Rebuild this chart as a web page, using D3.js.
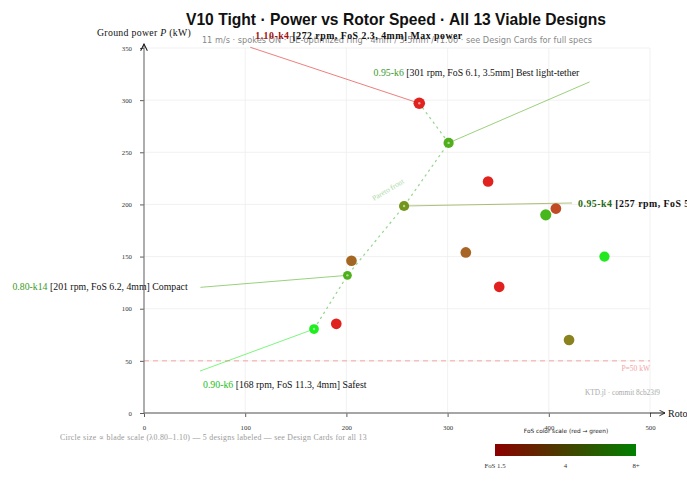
<!DOCTYPE html>
<html>
<head>
<meta charset="utf-8">
<script src="https://cdn.jsdelivr.net/npm/d3@7"></script>
<style>
  body { margin: 0; background: #fff; }
  svg { display: block; }
  .serif { font-family: "Liberation Serif", "DejaVu Serif", serif; }
  .sans { font-family: "DejaVu Sans", "Liberation Sans", sans-serif; }
</style>
</head>
<body>
<svg id="chart" width="687" height="500"></svg>
<script>
// design data
const rpm = [272, 301, 257, 205, 201, 168, 190, 340, 318, 351, 397, 407, 455, 420];
const power = [297, 259, 198.5, 146, 132, 80.5, 85.5, 222, 154, 121, 190, 196, 150, 70];
const fos = [2.3, 6.1, 5.2, 3.6, 6.2, 11.3, 2.0, 2.1, 3.5, 1.9, 6.5, 3.0, 10.5, 4.5];
const bladeScale = [1.10, 0.95, 0.95, 1.00, 0.80, 0.90, 1.00, 1.00, 1.00, 1.00, 1.05, 1.00, 0.95, 1.00];

const labeledIdx = [0, 1, 2, 4, 5];
const labelNames = ["1.10-k4", "0.95-k6", "0.95-k4", "0.80-k14", "0.90-k6"];
const labelTether = ["4mm", "3.5mm", "4mm", "4mm", "4mm"];
const labelRoles = ["Max power", "Best light-tether", "Balanced", "Compact", "Safest"];
const paretoIdx = [0, 1, 2, 4, 5];

const xTicks = [0, 100, 200, 300, 400, 500];
const yTicks = [0, 50, 100, 150, 200, 250, 300, 350];
const fosBarTicks = [1.5, 4, 6.5];
const fosBarLabels = ["FoS 1.5", "4", "8+"];
const minPower = 50;

// label layout: offsets from the point (text anchor, leader end), style
const labelLayout = [
  { tx: -164, ty: -64, lx: -169, ly: -56, bold: true, color: "#a01010" },
  { tx: -75, ty: -67, lx: 141, ly: -61, bold: false, color: "#3a9a28" },
  { tx: 174, ty: 1, lx: 168, ly: -3, bold: true, color: "#24680f" },
  { tx: -335, ty: 15, lx: -147, ly: 12, bold: false, color: "#3a9a28" },
  { tx: -111, ty: 59, lx: -114, ly: 42, bold: false, color: "#20c020" }
];

const svg = d3.select("#chart");
const m = { left: 144, right: 650, top: 48, bottom: 413 };

const x = d3.scaleLinear().domain([0, 500]).range([m.left, m.right]);
const y = d3.scaleLinear().domain([0, 350]).range([m.bottom, m.top]);
const r = d3.scaleLinear().domain([0.8, 1.1]).range([4.4, 5.8]);
const color = d3.scaleLinear()
  .domain([1.5, 2.5, 3.3, 4.8, 6.3, 11])
  .range(["#e01212", "#dc1a14", "#a85618", "#7a8410", "#40b010", "#12ee12"])
  .clamp(true);

// grid
svg.append("g").selectAll("line").data(xTicks.slice(1)).join("line")
  .attr("x1", d => x(d)).attr("x2", d => x(d))
  .attr("y1", y(0)).attr("y2", y(350))
  .attr("stroke", "#eeeeee").attr("stroke-width", 0.8);
svg.append("g").selectAll("line").data(yTicks.slice(1)).join("line")
  .attr("x1", x(0)).attr("x2", x(500))
  .attr("y1", d => y(d)).attr("y2", d => y(d))
  .attr("stroke", "#eeeeee").attr("stroke-width", 0.8);

// title
svg.append("text")
  .attr("x", 396).attr("y", 25).attr("text-anchor", "middle")
  .attr("font-family", "'Liberation Sans', sans-serif")
  .attr("font-size", 17).attr("font-weight", "bold").attr("fill", "#111")
  .attr("textLength", 420).attr("lengthAdjust", "spacingAndGlyphs")
  .text("V10 Tight · Power vs Rotor Speed · All 13 Viable Designs");
svg.append("text").attr("class", "sans")
  .attr("x", 397).attr("y", 43).attr("text-anchor", "middle")
  .attr("font-size", 8.2).attr("fill", "#888")
  .text("11 m/s · spokes ON · DE-optimized ring · 4mm / 3.5mm / r1.00 · see Design Cards for full specs");

// min power line
svg.append("line")
  .attr("x1", x(0)).attr("x2", x(500))
  .attr("y1", y(minPower)).attr("y2", y(minPower))
  .attr("stroke", "#f4a4a4").attr("stroke-width", 1).attr("stroke-dasharray", "5,4");
svg.append("text").attr("class", "serif")
  .attr("x", x(500)).attr("y", y(minPower) + 10).attr("text-anchor", "end")
  .attr("font-size", 7.5).attr("fill", "#f4a4a4")
  .text(`P=${minPower} kW`);

svg.append("text").attr("class", "serif")
  .attr("x", 660).attr("y", 395).attr("text-anchor", "end")
  .attr("font-size", 7.3).attr("fill", "#aaa")
  .text("KTD.jl · commit 8cb23f9");

// axes
const xAxis = d3.axisBottom(x).tickValues(xTicks).tickSize(4).tickPadding(8);
const gx = svg.append("g").attr("transform", `translate(0,${y(0)})`).call(xAxis);
const yAxis = d3.axisLeft(y).tickValues(yTicks).tickSize(4).tickPadding(8);
const gy = svg.append("g").attr("transform", `translate(${x(0)},0)`).call(yAxis);
[gx, gy].forEach(g => {
  g.select(".domain").remove();
  g.selectAll(".tick line").attr("stroke", "#333").attr("stroke-width", 0.8);
  g.selectAll(".tick text").attr("class", "serif").attr("font-size", 6.8).attr("fill", "#333");
});

svg.append("defs").append("marker")
  .attr("id", "arrow").attr("viewBox", "0 0 10 10")
  .attr("refX", 9).attr("refY", 5)
  .attr("markerWidth", 7).attr("markerHeight", 7)
  .attr("orient", "auto-start-reverse")
  .append("path").attr("d", "M1,1 L9,5 L1,9").attr("fill", "none")
  .attr("stroke", "#111").attr("stroke-width", 1.2);

svg.append("line")
  .attr("x1", x(0)).attr("x2", x(500))
  .attr("y1", y(0)).attr("y2", y(0))
  .attr("stroke", "#888").attr("stroke-width", 1.5);
svg.append("line")
  .attr("x1", x(500)).attr("x2", x(500) + 15)
  .attr("y1", y(0)).attr("y2", y(0))
  .attr("stroke", "#111").attr("stroke-width", 1)
  .attr("marker-end", "url(#arrow)");
svg.append("line")
  .attr("x1", x(0)).attr("x2", x(0))
  .attr("y1", y(0)).attr("y2", y(350) - 4)
  .attr("stroke", "#777").attr("stroke-width", 1.2)
  .attr("marker-end", "url(#arrow)");

svg.append("text").attr("class", "serif")
  .attr("x", 668).attr("y", y(0) + 3.5)
  .attr("font-size", 10).attr("fill", "#111")
  .text("Rotor speed Ω (rpm)");
const ylab = svg.append("text").attr("class", "serif")
  .attr("x", 97).attr("y", 36)
  .attr("font-size", 9.8).attr("letter-spacing", 0.3).attr("fill", "#111");
ylab.append("tspan").text("Ground power ");
ylab.append("tspan").attr("font-style", "italic").text("P");
ylab.append("tspan").text(" (kW)");

// pareto front
const pareto = d3.line().x(i => x(rpm[i])).y(i => y(power[i]));
svg.append("path")
  .attr("d", pareto(paretoIdx))
  .attr("fill", "none").attr("stroke", "#96d890")
  .attr("stroke-width", 1.3).attr("stroke-dasharray", "1.3,4.6")
  .attr("stroke-linecap", "round");
svg.append("text").attr("class", "serif")
  .attr("transform", `translate(374,201) rotate(-31)`)
  .attr("font-size", 7.5).attr("fill", "#a6d8a0")
  .text("Pareto front");

// leader lines
labeledIdx.forEach((i, k) => {
  const L = labelLayout[k];
  const px = x(rpm[i]), py = y(power[i]);
  svg.append("line")
    .attr("x1", px).attr("y1", py)
    .attr("x2", px + L.lx).attr("y2", py + L.ly)
    .attr("stroke", color(fos[i])).attr("stroke-opacity", 0.55)
    .attr("stroke-width", 1);
});

// points
const idx = d3.range(rpm.length);
svg.append("g").selectAll("circle").data(idx).join("circle")
  .attr("cx", i => x(rpm[i])).attr("cy", i => y(power[i]))
  .attr("r", i => r(bladeScale[i]))
  .attr("fill", i => color(fos[i]))
  .attr("fill-opacity", 0.95);
svg.append("g").selectAll("circle").data(labeledIdx).join("circle")
  .attr("cx", i => x(rpm[i])).attr("cy", i => y(power[i]))
  .attr("r", 1.2).attr("fill", "#fff").attr("fill-opacity", 0.55);

// labels
labeledIdx.forEach((i, k) => {
  const L = labelLayout[k];
  const px = x(rpm[i]), py = y(power[i]);
  const t = svg.append("text").attr("class", "serif")
    .attr("x", px + L.tx).attr("y", py + L.ty)
    .attr("font-size", 9.8)
    .attr("letter-spacing", L.bold ? 0.5 : 0)
    .attr("font-weight", L.bold ? "bold" : "normal");
  t.append("tspan").attr("fill", L.color).text(labelNames[k]);
  t.append("tspan").attr("fill", "#111")
    .text(` [${rpm[i]} rpm, FoS ${fos[i].toFixed(1)}, ${labelTether[k]}] ${labelRoles[k]}`);
});

// caption
svg.append("text").attr("class", "serif")
  .attr("x", 60).attr("y", 440)
  .attr("font-size", 7.8).attr("letter-spacing", 0.3).attr("fill", "#999")
  .text("Circle size ∝ blade scale (λ0.80–1.10)   —   5 designs labeled — see Design Cards for all 13");

// FoS colour bar
const bar = d3.scaleLinear().domain([1.5, 6.5]).range([495, 636]);
const grad = svg.select("defs").append("linearGradient").attr("id", "fosgrad");
grad.append("stop").attr("offset", "0%").attr("stop-color", "#8b0000");
grad.append("stop").attr("offset", "100%").attr("stop-color", "#008000");
svg.append("rect")
  .attr("x", bar(1.5)).attr("y", 444)
  .attr("width", bar(6.5) - bar(1.5)).attr("height", 12)
  .attr("fill", "url(#fosgrad)");
svg.append("text").attr("class", "sans")
  .attr("x", 566).attr("y", 433).attr("text-anchor", "middle")
  .attr("font-size", 5.8).attr("fill", "#222")
  .text("FoS color scale (red → green)");
svg.append("g").selectAll("text").data(fosBarTicks).join("text")
  .attr("class", "serif")
  .attr("x", d => bar(d)).attr("y", 468).attr("text-anchor", "middle")
  .attr("font-size", 6.8).attr("fill", "#333")
  .text((d, k) => fosBarLabels[k]);
</script>
</body>
</html>
